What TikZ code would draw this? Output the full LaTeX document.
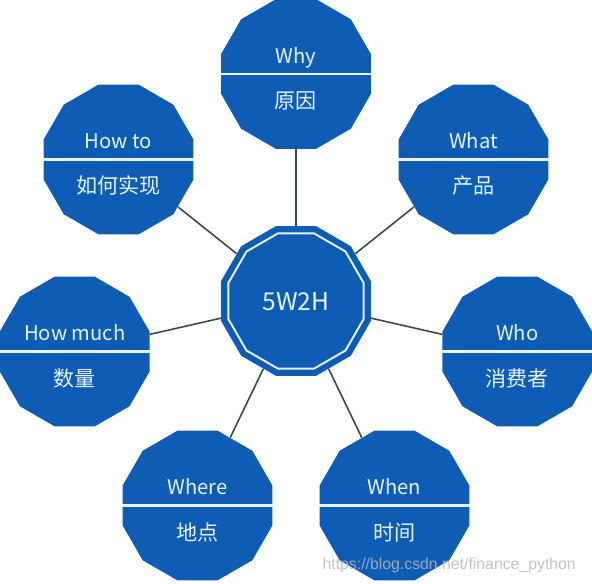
\documentclass[tikz,border=0pt]{standalone}
\usepackage{fontspec}
\newfontfamily\cjk{Noto Sans CJK SC}
\setmainfont{Liberation Sans}
\usetikzlibrary{shapes.geometric}

\begin{document}
\begin{tikzpicture}[x=0.02cm, y=0.02cm, font=\cjk]
% Colors
\definecolor{deep}{RGB}{14,92,180}
\definecolor{link}{RGB}{58,70,88}
\definecolor{pale}{RGB}{232,244,255}

\tikzset{
  dodeca/.style={regular polygon, regular polygon sides=12, fill=deep,
    inner sep=0pt, minimum size=3.1cm},
  ring/.style={regular polygon, regular polygon sides=12, draw=pale,
    line width=1.1pt, inner sep=0pt, minimum size=2.8cm},
  divider/.style={pale, line width=1.2pt},
  spoke/.style={link, line width=0.9pt},
  entext/.style={anchor=base, text=pale, font=\cjk\fontsize{11.5}{13}\selectfont},
  zhtext/.style={anchor=base, text=pale, font=\cjk\fontsize{12}{14}\selectfont}
}

\useasboundingbox (-296,-282) rectangle (296,301);

% Hub
\node[dodeca] (hub) at (0,0) {};
\node[ring] (hubring) at (hub) {};
\node[anchor=base, text=pale, font=\cjk\fontsize{14}{16}\selectfont] (hubtext) at ([yshift=-0.18cm]hub.center) {5W2H};

% Seven questions around the hub
\foreach \name/\en/\zh [count=\i from 0] in
  {why/Why/原因, what/What/产品, who/Who/消费者, when/When/时间,
   where/Where/地点, howmuch/How much/数量, howto/How to/如何实现}{
  \node[dodeca] (\name) at ({90-360/7*\i}:227) {};
  \draw[divider] (\name.west) -- (\name.east);
  \node[entext] (\name-en) at ([yshift=0.22cm]\name.center) {\en};
  \node[zhtext] (\name-zh) at ([yshift=-0.69cm]\name.center) {\zh};
  \draw[spoke] (hub) -- (\name);
}

% Watermark
\node[anchor=base east, text=white!72!black, opacity=0.85,
  font=\fontsize{9}{11}\selectfont] (watermark) at (286,-268) {https://blog.csdn.net/finance\_python};

\end{tikzpicture}
\end{document}
